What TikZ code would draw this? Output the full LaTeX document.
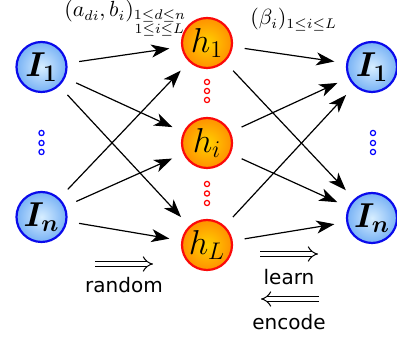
\documentclass[tikz,border=0pt]{standalone}
\usepackage{fontspec}
\setsansfont{DejaVu Sans}
\usepackage{amsmath,amssymb,bm}
\usetikzlibrary{arrows.meta}
\definecolor{inblue}{RGB}{10,10,235}
\definecolor{inlight}{RGB}{215,238,255}
\definecolor{inmid}{RGB}{120,178,245}
\definecolor{hidred}{RGB}{250,10,10}
\definecolor{hidlight}{RGB}{255,210,0}
\definecolor{hidmid}{RGB}{255,145,0}

\begin{document}
\begin{tikzpicture}[
  x=0.5pt,y=-0.5pt,
  font=\sffamily,
  inp/.style={circle,draw=inblue,line width=1.1pt,inner color=inlight,outer color=inmid,minimum size=25pt,inner sep=0pt,font=\LARGE},
  hid/.style={circle,draw=hidred,line width=1.1pt,inner color=hidlight,outer color=hidmid,minimum size=25pt,inner sep=0pt,font=\LARGE},
  arr/.style={-{Stealth[length=9pt,width=6.5pt,inset=2.5pt]},line width=0.6pt,shorten <=6pt,shorten >=6pt},
  dbl/.style={draw=black,double=white,double distance=2.2pt,line width=0.5pt,-{Implies}},
  bdot/.style={circle,draw=blue,line width=0.6pt,fill=white,minimum size=2.6pt,inner sep=0pt},
  rdot/.style={circle,draw=red,line width=0.6pt,fill=white,minimum size=2.6pt,inner sep=0pt},
  wlabel/.style={anchor=base west,inner sep=0pt,font=\fontsize{10.6}{13}\selectfont},
]
\useasboundingbox (0,0) rectangle (397,341);

% layers
\node[inp] (x1) at (41.5,67) {$\bm{I_1}$};
\node[inp] (xn) at (41.5,217) {$\bm{I_n}$};
\node[hid] (h1) at (207,43) {$h_1$};
\node[hid] (hi) at (207,143) {$h_i$};
\node[hid] (hL) at (207,245) {$h_L$};
\node[inp] (y1) at (372,67) {$\bm{I_1}$};
\node[inp] (yn) at (372,218) {$\bm{I_n}$};

% vertical dots
\node[bdot] (bl1) at (41.5,133) {};
\node[bdot] (bl2) at (41.5,143) {};
\node[bdot] (bl3) at (41.5,152) {};
\node[bdot] (br1) at (373,133) {};
\node[bdot] (br2) at (373,143) {};
\node[bdot] (br3) at (373,152) {};
\node[rdot] (ra1) at (207,82) {};
\node[rdot] (ra2) at (207,91) {};
\node[rdot] (ra3) at (207,100) {};
\node[rdot] (rb1) at (207,184) {};
\node[rdot] (rb2) at (207,193.5) {};
\node[rdot] (rb3) at (207,203) {};

% input -> hidden
\draw[arr] (x1) -- (h1);
\draw[arr] (x1) -- (hi);
\draw[arr] (x1) -- (hL);
\draw[arr] (xn) -- (h1);
\draw[arr] (xn) -- (hi);
\draw[arr] (xn) -- (hL);
% hidden -> output
\draw[arr] (h1) -- (y1);
\draw[arr] (h1) -- (yn);
\draw[arr] (hi) -- (y1);
\draw[arr] (hi) -- (yn);
\draw[arr] (hL) -- (y1);
\draw[arr] (hL) -- (yn);

\node[wlabel] (wlab) at (64,17) {$(a_{di},b_i)_{\substack{1\leq d\leq n\\ 1\leq i\leq L}}$};
\node[wlabel] (blab) at (250,25) {$(\beta_i)_{1\leq i\leq L}$};

% bottom legend
\coordinate (r0) at (95,264);
\coordinate (r1) at (153,264);
\draw[dbl] (r0) -- (r1);
\node (random) at (124,285) {random};
\coordinate (l0) at (260,254);
\coordinate (l1) at (318,254);
\draw[dbl] (l0) -- (l1);
\node (learn) at (289,277) {learn};
\coordinate (e0) at (319,299);
\coordinate (e1) at (261,299);
\draw[dbl] (e0) -- (e1);
\node (encode) at (289,322) {encode};
\end{tikzpicture}
\end{document}
